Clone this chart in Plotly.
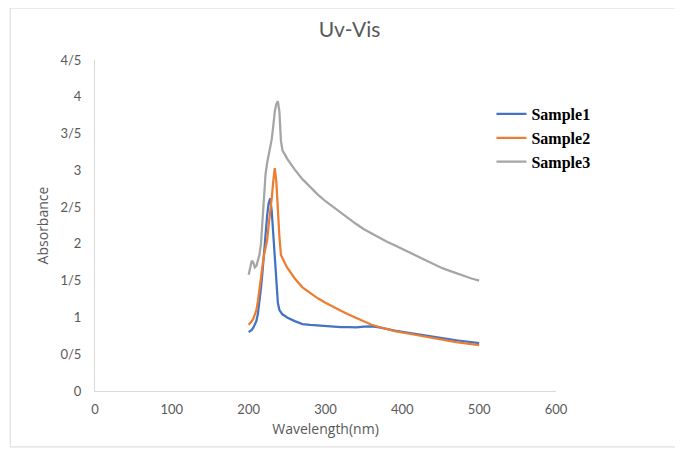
import plotly.graph_objects as go

wavelength = [200, 202, 204, 206, 208, 210, 212, 214, 216, 218, 220, 222, 224, 226, 228,
              230, 232, 234, 236, 238, 240, 242, 244, 246, 248, 250, 260, 270, 280, 290,
              300, 310, 320, 330, 340, 350, 360, 370, 380, 390, 400, 410, 420, 430, 440,
              450, 460, 470, 480, 490, 500]

sample1 = [0.80, 0.81, 0.83, 0.86, 0.90, 0.95, 1.05, 1.20, 1.40, 1.62, 1.90, 2.15, 2.38, 2.55, 2.62,
           2.45, 2.10, 1.75, 1.40, 1.20, 1.10, 1.06, 1.04, 1.03, 1.01, 1.00, 0.95, 0.91, 0.90, 0.89,
           0.88, 0.88, 0.87, 0.87, 0.865, 0.875, 0.88, 0.865, 0.84, 0.82, 0.805, 0.79, 0.775, 0.755, 0.735,
           0.72, 0.705, 0.69, 0.675, 0.665, 0.65]

sample2 = [0.90, 0.92, 0.95, 0.98, 1.03, 1.10, 1.22, 1.40, 1.55, 1.70, 1.85, 1.95, 2.05, 2.25, 2.42,
           2.62, 2.85, 3.03, 2.85, 2.45, 2.10, 1.85, 1.80, 1.76, 1.72, 1.68, 1.53, 1.41, 1.33, 1.26,
           1.20, 1.14, 1.09, 1.04, 0.99, 0.94, 0.90, 0.87, 0.84, 0.815, 0.795, 0.775, 0.755, 0.735, 0.715,
           0.70, 0.68, 0.665, 0.65, 0.635, 0.625]

sample3 = [1.58, 1.70, 1.77, 1.75, 1.68, 1.70, 1.78, 1.85, 2.00, 2.35, 2.70, 2.95, 3.10, 3.20, 3.30,
           3.42, 3.60, 3.80, 3.90, 3.94, 3.80, 3.40, 3.27, 3.24, 3.20, 3.16, 3.01, 2.88, 2.77, 2.67,
           2.58, 2.50, 2.42, 2.34, 2.27, 2.20, 2.14, 2.08, 2.03, 1.98, 1.93, 1.87, 1.82, 1.77, 1.72,
           1.68, 1.64, 1.60, 1.56, 1.53, 1.50]

series_names = ["Sample1", "Sample2", "Sample3"]
series_colors = ["#4472C4", "#ED7D31", "#A5A5A5"]

y_tickvals = [0, 0.5, 1, 1.5, 2, 2.5, 3, 3.5, 4, 4.5]
y_ticktext = ["0", "0/5", "1", "1/5", "2", "2/5", "3", "3/5", "4", "4/5"]
x_tickvals = [0, 100, 200, 300, 400, 500, 600]

fig = go.Figure()
for name, vals, col in zip(series_names, [sample1, sample2, sample3], series_colors):
    fig.add_trace(go.Scatter(x=wavelength, y=vals, mode="lines", name=name,
                             legendgroup=name,
                             line=dict(color=col, width=2.25)))

tick_font = dict(family="Lato, Carlito, 'Open Sans', sans-serif", size=13, color="#595959")
title_font = dict(family="'Open Sans', sans-serif", size=14, color="#595959")

fig.update_layout(
    width=683, height=450,
    margin=dict(l=87, r=135, t=52, b=67),
    paper_bgcolor="white", plot_bgcolor="white",
    title=dict(text="Uv-Vis", x=0.5, xanchor="center", y=0.951, yanchor="middle",
               font=dict(family="Lato, Carlito, 'Open Sans', sans-serif", size=21, color="#595959")),
    xaxis=dict(range=[0, 600], tickvals=x_tickvals, showgrid=False, zeroline=False,
               showline=True, linecolor="#d9d9d9", linewidth=1, ticks="",
               tickfont=tick_font, ticklabelstandoff=6,
               title=dict(text="Wavelength(nm)", font=title_font, standoff=8)),
    yaxis=dict(range=[0, 4.5], tickvals=y_tickvals, ticktext=y_ticktext, showgrid=False,
               zeroline=False, showline=True, linecolor="#d9d9d9", linewidth=1, ticks="",
               tickfont=tick_font, ticklabelstandoff=10,
               title=dict(text="Absorbance", font=title_font, standoff=8)),
    legend=dict(x=0.86, y=0.888, xanchor="left", yanchor="top",
                font=dict(family="'Liberation Serif', 'Times New Roman', serif", size=16, color="#000000", weight="bold"),
                tracegroupgap=0, bgcolor="rgba(0,0,0,0)"),
    showlegend=True,
)

fig.add_shape(type="rect", xref="paper", yref="paper",
              x0=-0.184, x1=1.30, y0=-0.169, y1=1.157,
              line=dict(color="#d9d9d9", width=1), fillcolor="rgba(0,0,0,0)", layer="below")

fig.write_html("out.html")
